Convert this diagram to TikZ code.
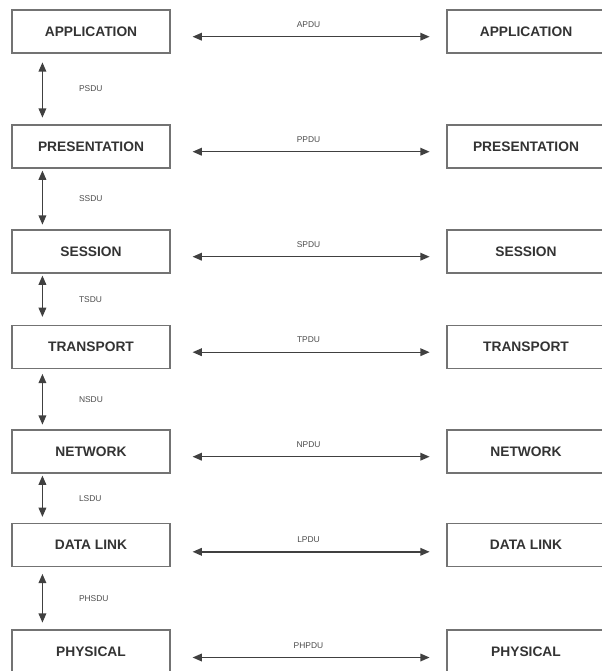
\documentclass[tikz,border=0pt]{standalone}
\usepackage{fontspec}
\setmainfont{Liberation Sans}
\usetikzlibrary{arrows.meta}
\tikzset{
  layer/.style={draw=black!55, line width=0.8pt, minimum width=3.95cm, minimum height=1.075cm,
    inner sep=0pt, font=\fontsize{9.8}{11}\selectfont\bfseries, text=black!80},
  pdu/.style={font=\fontsize{6}{7}\selectfont, text=black!70},
  link/.style={{Triangle[length=2.3mm,width=1.9mm]}-{Triangle[length=2.3mm,width=1.9mm]}, line width=1pt, draw=black!75},
}
\begin{document}
\begin{tikzpicture}[x=0.025cm, y=-0.025cm]
			\useasboundingbox (0,0) rectangle (601,671);
			% left stack
			\node[layer] (la) at (91,31.5)  {APPLICATION};
			\node[layer] (lp) at (91,146.5) {PRESENTATION};
			\node[layer] (ls) at (91,251.5) {SESSION};
			\node[layer] (lt) at (91,347)   {TRANSPORT};
			\node[layer] (ln) at (91,451.5) {NETWORK};
			\node[layer] (ld) at (91,545)   {DATA LINK};
			\node[layer] (lh) at (91,651.5) {PHYSICAL};
			% right stack
			\node[layer] (ra) at (526,31.5)  {APPLICATION};
			\node[layer] (rp) at (526,146.5) {PRESENTATION};
			\node[layer] (rs) at (526,251.5) {SESSION};
			\node[layer] (rt) at (526,347)   {TRANSPORT};
			\node[layer] (rn) at (526,451.5) {NETWORK};
			\node[layer] (rd) at (526,545)   {DATA LINK};
			\node[layer] (rh) at (526,651.5) {PHYSICAL};
			% peer protocols
			\draw[link, shorten <=0.55cm, shorten >=0.42cm] ([yshift=-0.13cm]la.east) -- node[pdu, above=0.1cm] {APDU} ([yshift=-0.13cm]ra.west);
			\draw[link, shorten <=0.55cm, shorten >=0.42cm] ([yshift=-0.13cm]lp.east) -- node[pdu, above=0.1cm] {PPDU} ([yshift=-0.13cm]rp.west);
			\draw[link, shorten <=0.55cm, shorten >=0.42cm] ([yshift=-0.13cm]ls.east) -- node[pdu, above=0.1cm] {SPDU} ([yshift=-0.13cm]rs.west);
			\draw[link, shorten <=0.55cm, shorten >=0.42cm] ([yshift=-0.13cm]lt.east) -- node[pdu, above=0.1cm] {TPDU} ([yshift=-0.13cm]rt.west);
			\draw[link, shorten <=0.55cm, shorten >=0.42cm] ([yshift=-0.13cm]ln.east) -- node[pdu, above=0.1cm] {NPDU} ([yshift=-0.13cm]rn.west);
			\draw[link, shorten <=0.55cm, shorten >=0.42cm] ([yshift=-0.17cm]ld.east) -- node[pdu, above=0.1cm] {LPDU} ([yshift=-0.17cm]rd.west);
			\draw[link, shorten <=0.55cm, shorten >=0.42cm] ([yshift=-0.15cm]lh.east) -- node[pdu, above=0.1cm] {PHPDU} ([yshift=-0.15cm]rh.west);
			% service interfaces
			\draw[link, shorten <=0.22cm, shorten >=0.17cm] ([xshift=0.775cm]la.south west) -- node[pdu, right=0.78cm] {PSDU} ([xshift=0.775cm]lp.north west);
			\draw[link, shorten <=0.05cm, shorten >=0.12cm] ([xshift=0.775cm]lp.south west) -- node[pdu, right=0.78cm] {SSDU} ([xshift=0.775cm]ls.north west);
			\draw[link, shorten <=0.05cm, shorten >=0.2cm] ([xshift=0.775cm]ls.south west) -- node[pdu, right=0.78cm] {TSDU} ([xshift=0.775cm]lt.north west);
			\draw[link, shorten <=0.12cm, shorten >=0.12cm] ([xshift=0.775cm]lt.south west) -- node[pdu, right=0.78cm] {NSDU} ([xshift=0.775cm]ln.north west);
			\draw[link, shorten <=0.05cm, shorten >=0.15cm] ([xshift=0.775cm]ln.south west) -- node[pdu, right=0.78cm] {LSDU} ([xshift=0.775cm]ld.north west);
			\draw[link, shorten <=0.17cm, shorten >=0.17cm] ([xshift=0.775cm]ld.south west) -- node[pdu, right=0.78cm] {PHSDU} ([xshift=0.775cm]lh.north west);
		\end{tikzpicture}
\end{document}
